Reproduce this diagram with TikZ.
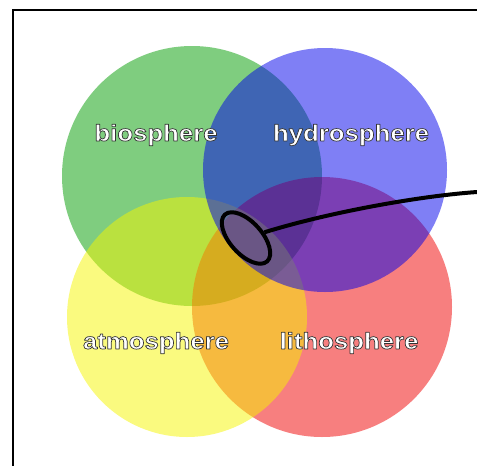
\documentclass[tikz,border=0pt]{standalone}
\usepackage{fontspec}
\usetikzlibrary{shapes.geometric}

\newfontfamily\spherefont{Liberation Sans}[FakeStretch=1.12]
% white letters with a dark rim (fill + stroke render mode)
\newcommand{\rimtext}[1]{\special{pdf:literal direct 0.2 0.2 0.2 RG 0.7 w 1 j 2 Tr}#1\special{pdf:literal direct 0 Tr}}

\definecolor{bioGreen}{RGB}{0,155,0}
\definecolor{hydroBlue}{RGB}{0,0,235}
\definecolor{atmoYellow}{RGB}{245,245,0}
\definecolor{lithoRed}{RGB}{240,0,0}

\tikzset{
  sphere/.style={circle, minimum size=#1, inner sep=0pt, fill opacity=0.5},
  spherelabel/.style={text=white, inner sep=0pt, font=\spherefont\bfseries\fontsize{23}{25}\selectfont},
}

\begin{document}
\begin{tikzpicture}[x=1pt, y=-1pt, thick]
\useasboundingbox (0,0) rectangle (477,466);

% Frame
\draw[line width=1.6pt] (13,466) -- (13,10) -- (477,10);

% Spheres
\node[sphere=260, fill=bioGreen] (bio) at (192,176) {};
\node[sphere=260, fill=lithoRed] (litho) at (322,307) {};
\node[sphere=240, fill=atmoYellow] (atmo) at (187,317) {};
\node[sphere=244, fill=hydroBlue] (hydro) at (325,170) {};

% Labels
\node[spherelabel] (biolabel) at (156,135) {\rimtext{biosphere}};
\node[spherelabel] (hydrolabel) at (351,135) {\rimtext{hydrosphere}};
\node[spherelabel] (atmolabel) at (156,343) {\rimtext{atmosphere}};
\node[spherelabel] (litholabel) at (349,343) {\rimtext{lithosphere}};

% Marker on the overlap
\node[draw, ellipse, line width=4pt, inner sep=0pt, minimum width=63, minimum height=32, rotate=-48] (core) at (246,238) {};
\coordinate (tip) at (477,192);
\draw[line width=4pt] (core) .. controls (330,212) and (420,196) .. (tip);

\end{tikzpicture}
\end{document}
